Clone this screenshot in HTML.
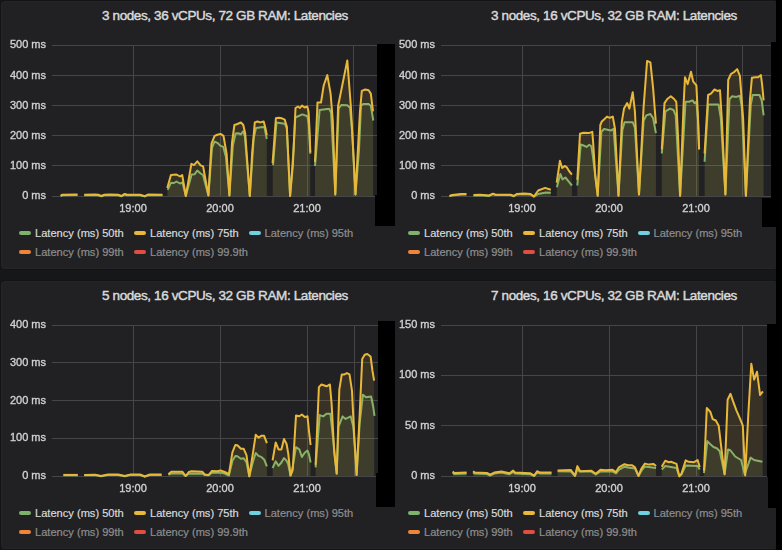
<!DOCTYPE html>
<html><head><meta charset="utf-8"><style>
*{margin:0;padding:0;box-sizing:border-box}
html,body{width:782px;height:550px;overflow:hidden;background:#161719}
body{position:relative;font-family:"Liberation Sans",sans-serif}
.p{position:absolute;background:#212124;border-radius:3px;border:1px solid #252528;box-shadow:0 0 0 1px #121314}
svg{position:absolute;left:0;top:0}
.t{position:absolute;text-align:center;font-size:13.5px;color:#d8d9da;letter-spacing:-0.39px;line-height:16px;white-space:nowrap;-webkit-text-stroke:0.45px #d8d9da}
.yl{position:absolute;width:46px;text-align:right;font-size:11px;color:#cfd0d1;line-height:14px;white-space:nowrap;will-change:transform;-webkit-text-stroke:0.35px #cfd0d1}
.xl{position:absolute;width:50px;text-align:center;font-size:11px;color:#cfd0d1;line-height:14px;white-space:nowrap;will-change:transform;-webkit-text-stroke:0.35px #cfd0d1}
.sw{position:absolute;width:12px;height:4px;border-radius:2px}
.lg{position:absolute;font-size:11.1px;color:#d8d9da;line-height:14px;white-space:nowrap;-webkit-text-stroke:0.2px currentColor}
.dim{color:#8e8e8e}
</style></head><body>
<div class="p" style="left:1px;top:1px;width:776px;height:268px"></div>
<div class="p" style="left:1px;top:281px;width:776px;height:268px"></div>
<svg width="782" height="550" viewBox="0 0 782 550">
<rect x="52.0" y="45" width="325.0" height="1" fill="#464648"/>
<rect x="52.0" y="75" width="325.0" height="1" fill="#464648"/>
<rect x="52.0" y="105" width="325.0" height="1" fill="#464648"/>
<rect x="52.0" y="135" width="325.0" height="1" fill="#464648"/>
<rect x="52.0" y="165" width="325.0" height="1" fill="#464648"/>
<rect x="52.0" y="196" width="325.0" height="1" fill="#464648"/>
<rect x="133" y="45" width="1" height="151" fill="#464648"/>
<rect x="220" y="45" width="1" height="151" fill="#464648"/>
<rect x="307" y="45" width="1" height="151" fill="#464648"/>
<rect x="353" y="45" width="1" height="151" fill="#464648"/>
<polygon points="60.6,196.0 62.7,195.2 77.5,195.0 77.5,196.0 60.6,196.0" fill="#7eb26d" fill-opacity="0.09"/>
<polygon points="84.2,195.3 95.0,195.1 98.0,195.3 101.5,196.3 104.0,195.3 110.0,195.0 118.0,195.3 121.5,196.3 124.6,194.5 127.0,195.3 140.0,195.2 144.8,196.4 148.0,195.1 162.5,195.2 162.5,196.0 84.2,196.0" fill="#7eb26d" fill-opacity="0.09"/>
<polygon points="167.7,189.9 171.0,182.7 174.0,183.0 176.5,181.5 180.0,183.5 182.5,182.5 185.8,196.0 191.6,174.6 194.5,174.3 197.3,170.5 200.6,173.5 203.0,175.0 208.4,195.4 212.0,147.5 214.6,141.6 217.4,142.8 220.5,145.9 223.2,146.7 225.9,156.7 229.4,195.4 232.8,145.9 235.6,133.5 238.2,133.2 240.9,134.3 243.3,131.2 244.9,136.6 249.8,196.0 253.7,138.2 256.0,128.1 263.0,127.0 264.5,127.4 266.8,139.0 266.8,196.0 167.7,196.0" fill="#7eb26d" fill-opacity="0.09"/>
<polygon points="273.0,165.2 276.5,122.4 281.4,123.2 284.7,123.8 286.8,128.0 290.1,196.0 293.5,150.0 295.3,117.5 302.4,114.4 307.4,116.3 308.8,125.0 310.3,153.8 310.3,196.0 273.0,196.0" fill="#7eb26d" fill-opacity="0.09"/>
<polygon points="315.0,166.0 319.6,110.0 329.2,108.7 331.1,112.8 335.3,194.4 338.6,108.6 341.3,105.0 347.3,105.3 350.0,107.8 352.2,131.7 355.5,194.4 359.0,150.0 361.0,105.8 363.1,103.9 368.6,103.9 370.8,105.8 373.3,120.5 373.3,196.0 315.0,196.0" fill="#7eb26d" fill-opacity="0.09"/>
<polyline points="60.6,196.0 62.7,195.2 77.5,195.0" fill="none" stroke="#7eb26d" stroke-width="2" stroke-linejoin="round"/>
<polyline points="84.2,195.3 95.0,195.1 98.0,195.3 101.5,196.3 104.0,195.3 110.0,195.0 118.0,195.3 121.5,196.3 124.6,194.5 127.0,195.3 140.0,195.2 144.8,196.4 148.0,195.1 162.5,195.2" fill="none" stroke="#7eb26d" stroke-width="2" stroke-linejoin="round"/>
<polyline points="167.7,189.9 171.0,182.7 174.0,183.0 176.5,181.5 180.0,183.5 182.5,182.5 185.8,196.0 191.6,174.6 194.5,174.3 197.3,170.5 200.6,173.5 203.0,175.0 208.4,195.4 212.0,147.5 214.6,141.6 217.4,142.8 220.5,145.9 223.2,146.7 225.9,156.7 229.4,195.4 232.8,145.9 235.6,133.5 238.2,133.2 240.9,134.3 243.3,131.2 244.9,136.6 249.8,196.0 253.7,138.2 256.0,128.1 263.0,127.0 264.5,127.4 266.8,139.0" fill="none" stroke="#7eb26d" stroke-width="2" stroke-linejoin="round"/>
<polyline points="273.0,165.2 276.5,122.4 281.4,123.2 284.7,123.8 286.8,128.0 290.1,196.0 293.5,150.0 295.3,117.5 302.4,114.4 307.4,116.3 308.8,125.0 310.3,153.8" fill="none" stroke="#7eb26d" stroke-width="2" stroke-linejoin="round"/>
<polyline points="315.0,166.0 319.6,110.0 329.2,108.7 331.1,112.8 335.3,194.4 338.6,108.6 341.3,105.0 347.3,105.3 350.0,107.8 352.2,131.7 355.5,194.4 359.0,150.0 361.0,105.8 363.1,103.9 368.6,103.9 370.8,105.8 373.3,120.5" fill="none" stroke="#7eb26d" stroke-width="2" stroke-linejoin="round"/>
<polygon points="60.6,195.7 62.7,194.7 77.5,194.5 77.5,196.0 60.6,196.0" fill="#eab839" fill-opacity="0.11"/>
<polygon points="84.2,194.8 95.0,194.6 98.0,194.8 101.5,196.0 104.0,194.8 110.0,194.5 118.0,194.8 121.5,196.0 124.6,193.9 127.0,194.8 140.0,194.7 144.8,196.2 148.0,194.6 162.5,194.7 162.5,196.0 84.2,196.0" fill="#eab839" fill-opacity="0.11"/>
<polygon points="167.3,187.9 170.9,175.0 176.5,174.5 180.0,176.5 182.2,175.0 185.8,196.0 191.4,163.8 194.0,165.1 197.3,161.3 200.6,165.3 203.1,166.4 208.4,195.4 211.5,143.6 214.6,135.9 217.4,134.8 220.5,133.9 223.5,135.9 226.6,153.6 229.4,195.4 232.0,142.8 234.4,125.0 237.5,124.0 240.9,122.4 243.3,125.0 245.2,133.5 249.8,196.0 252.1,153.6 254.8,122.4 257.5,121.5 260.3,122.4 263.7,121.5 265.3,127.4 266.8,135.1 266.8,196.0 167.3,196.0" fill="#eab839" fill-opacity="0.11"/>
<polygon points="272.6,163.0 275.9,118.3 278.7,117.7 281.9,118.3 284.7,119.6 286.8,126.5 290.1,196.0 292.9,164.7 295.5,108.0 298.0,106.5 300.0,108.0 302.0,105.5 304.5,107.5 307.3,106.5 308.6,112.0 309.5,130.0 310.3,152.4 310.3,196.0 272.6,196.0" fill="#eab839" fill-opacity="0.11"/>
<polygon points="315.0,162.0 317.5,102.5 321.0,102.5 323.7,85.5 327.3,75.1 330.6,93.7 332.8,121.0 335.3,194.4 338.1,106.0 347.3,60.4 350.9,107.2 355.5,194.4 359.9,112.7 361.8,90.9 365.3,89.5 368.6,90.3 370.8,93.6 373.0,111.3 373.0,196.0 315.0,196.0" fill="#eab839" fill-opacity="0.11"/>
<polyline points="60.6,195.7 62.7,194.7 77.5,194.5" fill="none" stroke="#eab839" stroke-width="2" stroke-linejoin="round"/>
<polyline points="84.2,194.8 95.0,194.6 98.0,194.8 101.5,196.0 104.0,194.8 110.0,194.5 118.0,194.8 121.5,196.0 124.6,193.9 127.0,194.8 140.0,194.7 144.8,196.2 148.0,194.6 162.5,194.7" fill="none" stroke="#eab839" stroke-width="2" stroke-linejoin="round"/>
<polyline points="167.3,187.9 170.9,175.0 176.5,174.5 180.0,176.5 182.2,175.0 185.8,196.0 191.4,163.8 194.0,165.1 197.3,161.3 200.6,165.3 203.1,166.4 208.4,195.4 211.5,143.6 214.6,135.9 217.4,134.8 220.5,133.9 223.5,135.9 226.6,153.6 229.4,195.4 232.0,142.8 234.4,125.0 237.5,124.0 240.9,122.4 243.3,125.0 245.2,133.5 249.8,196.0 252.1,153.6 254.8,122.4 257.5,121.5 260.3,122.4 263.7,121.5 265.3,127.4 266.8,135.1" fill="none" stroke="#eab839" stroke-width="2" stroke-linejoin="round"/>
<polyline points="272.6,163.0 275.9,118.3 278.7,117.7 281.9,118.3 284.7,119.6 286.8,126.5 290.1,196.0 292.9,164.7 295.5,108.0 298.0,106.5 300.0,108.0 302.0,105.5 304.5,107.5 307.3,106.5 308.6,112.0 309.5,130.0 310.3,152.4" fill="none" stroke="#eab839" stroke-width="2" stroke-linejoin="round"/>
<polyline points="315.0,162.0 317.5,102.5 321.0,102.5 323.7,85.5 327.3,75.1 330.6,93.7 332.8,121.0 335.3,194.4 338.1,106.0 347.3,60.4 350.9,107.2 355.5,194.4 359.9,112.7 361.8,90.9 365.3,89.5 368.6,90.3 370.8,93.6 373.0,111.3" fill="none" stroke="#eab839" stroke-width="2" stroke-linejoin="round"/>
<rect x="441.0" y="45" width="330.0" height="1" fill="#464648"/>
<rect x="441.0" y="75" width="330.0" height="1" fill="#464648"/>
<rect x="441.0" y="105" width="330.0" height="1" fill="#464648"/>
<rect x="441.0" y="135" width="330.0" height="1" fill="#464648"/>
<rect x="441.0" y="165" width="330.0" height="1" fill="#464648"/>
<rect x="441.0" y="196" width="330.0" height="1" fill="#464648"/>
<rect x="522" y="45" width="1" height="151" fill="#464648"/>
<rect x="609" y="45" width="1" height="151" fill="#464648"/>
<rect x="696" y="45" width="1" height="151" fill="#464648"/>
<rect x="742" y="45" width="1" height="151" fill="#464648"/>
<polygon points="449.5,196.2 452.3,195.4 461.5,194.5 466.4,194.5 466.4,196.0 449.5,196.0" fill="#7eb26d" fill-opacity="0.09"/>
<polygon points="473.5,195.4 480.0,195.2 489.1,195.9 493.0,194.1 495.2,194.9 510.6,195.1 513.7,196.3 516.7,194.4 524.4,193.9 530.5,194.4 533.9,196.6 538.2,194.0 545.9,192.5 550.8,192.8 550.8,196.0 473.5,196.0" fill="#7eb26d" fill-opacity="0.09"/>
<polygon points="556.9,187.3 560.3,173.9 562.5,179.4 565.4,177.5 569.0,181.9 571.9,185.5 571.9,196.0 556.9,196.0" fill="#7eb26d" fill-opacity="0.09"/>
<polygon points="577.3,185.5 580.7,144.5 583.6,145.5 586.5,146.9 589.4,144.8 591.3,146.2 593.1,157.9 597.7,195.7 601.4,131.7 604.0,129.0 611.0,130.4 613.6,129.0 618.5,195.8 622.3,130.4 624.5,122.2 632.7,122.2 634.9,127.7 639.0,194.4 643.6,120.8 646.3,115.4 650.4,114.0 653.1,118.1 655.9,133.1 655.9,196.0 577.3,196.0" fill="#7eb26d" fill-opacity="0.09"/>
<polygon points="661.8,153.5 665.4,111.3 670.0,108.6 673.5,110.0 675.7,115.4 680.1,195.8 685.5,101.8 689.0,101.8 692.6,100.4 694.5,103.1 696.4,101.8 698.0,120.8 699.1,149.4 699.1,196.0 661.8,196.0" fill="#7eb26d" fill-opacity="0.09"/>
<polygon points="704.6,161.7 708.1,104.5 718.6,104.5 720.8,118.1 725.4,194.4 729.5,99.0 732.2,96.3 736.3,96.9 739.9,95.8 741.8,107.2 745.9,195.8 750.8,104.5 752.7,95.0 759.5,95.0 761.7,100.4 763.6,115.4 763.6,196.0 704.6,196.0" fill="#7eb26d" fill-opacity="0.09"/>
<polyline points="449.5,196.2 452.3,195.4 461.5,194.5 466.4,194.5" fill="none" stroke="#7eb26d" stroke-width="2" stroke-linejoin="round"/>
<polyline points="473.5,195.4 480.0,195.2 489.1,195.9 493.0,194.1 495.2,194.9 510.6,195.1 513.7,196.3 516.7,194.4 524.4,193.9 530.5,194.4 533.9,196.6 538.2,194.0 545.9,192.5 550.8,192.8" fill="none" stroke="#7eb26d" stroke-width="2" stroke-linejoin="round"/>
<polyline points="556.9,187.3 560.3,173.9 562.5,179.4 565.4,177.5 569.0,181.9 571.9,185.5" fill="none" stroke="#7eb26d" stroke-width="2" stroke-linejoin="round"/>
<polyline points="577.3,185.5 580.7,144.5 583.6,145.5 586.5,146.9 589.4,144.8 591.3,146.2 593.1,157.9 597.7,195.7 601.4,131.7 604.0,129.0 611.0,130.4 613.6,129.0 618.5,195.8 622.3,130.4 624.5,122.2 632.7,122.2 634.9,127.7 639.0,194.4 643.6,120.8 646.3,115.4 650.4,114.0 653.1,118.1 655.9,133.1" fill="none" stroke="#7eb26d" stroke-width="2" stroke-linejoin="round"/>
<polyline points="661.8,153.5 665.4,111.3 670.0,108.6 673.5,110.0 675.7,115.4 680.1,195.8 685.5,101.8 689.0,101.8 692.6,100.4 694.5,103.1 696.4,101.8 698.0,120.8 699.1,149.4" fill="none" stroke="#7eb26d" stroke-width="2" stroke-linejoin="round"/>
<polyline points="704.6,161.7 708.1,104.5 718.6,104.5 720.8,118.1 725.4,194.4 729.5,99.0 732.2,96.3 736.3,96.9 739.9,95.8 741.8,107.2 745.9,195.8 750.8,104.5 752.7,95.0 759.5,95.0 761.7,100.4 763.6,115.4" fill="none" stroke="#7eb26d" stroke-width="2" stroke-linejoin="round"/>
<polygon points="449.5,196.0 452.3,195.0 461.5,194.1 466.4,194.1 466.4,196.0 449.5,196.0" fill="#eab839" fill-opacity="0.11"/>
<polygon points="473.5,195.0 480.0,194.8 489.1,195.5 493.0,193.7 495.2,194.5 510.6,194.7 513.7,196.0 516.7,194.0 524.4,193.5 530.5,194.0 533.9,196.5 538.2,190.5 545.1,187.9 550.8,189.7 550.8,196.0 473.5,196.0" fill="#eab839" fill-opacity="0.11"/>
<polygon points="556.7,182.6 559.9,160.8 562.2,168.0 564.7,165.9 566.8,167.3 569.0,171.0 571.9,174.6 571.9,196.0 556.7,196.0" fill="#eab839" fill-opacity="0.11"/>
<polygon points="577.3,179.7 580.0,133.8 583.6,132.8 588.7,133.1 592.3,131.9 593.1,141.8 595.2,175.3 597.7,195.7 600.3,125.0 601.8,121.5 604.0,119.5 607.0,116.6 609.8,117.8 612.8,116.6 615.0,129.0 618.5,195.8 621.8,122.2 624.0,108.6 627.2,103.1 629.4,108.6 632.7,92.2 634.9,111.3 639.0,194.4 643.6,107.2 647.1,60.9 650.4,62.3 653.1,88.1 655.9,123.6 655.9,196.0 577.3,196.0" fill="#eab839" fill-opacity="0.11"/>
<polygon points="661.8,149.4 664.5,103.1 667.3,99.0 670.8,96.3 674.1,99.0 676.3,101.8 678.2,139.9 680.1,195.8 683.6,104.5 685.0,77.2 687.7,84.1 691.0,71.8 693.1,81.3 696.4,85.4 698.0,118.1 699.1,149.4 699.1,196.0 661.8,196.0" fill="#eab839" fill-opacity="0.11"/>
<polygon points="704.6,153.5 708.1,95.0 711.0,93.6 714.5,89.5 717.3,90.9 720.0,90.3 721.9,120.8 725.4,194.4 728.2,80.0 730.9,74.0 734.4,71.8 737.2,69.1 739.9,75.9 743.1,118.1 745.9,195.8 750.0,99.0 751.9,77.8 755.4,77.2 758.1,77.2 760.9,75.1 762.2,85.4 763.6,100.4 763.6,196.0 704.6,196.0" fill="#eab839" fill-opacity="0.11"/>
<polyline points="449.5,196.0 452.3,195.0 461.5,194.1 466.4,194.1" fill="none" stroke="#eab839" stroke-width="2" stroke-linejoin="round"/>
<polyline points="473.5,195.0 480.0,194.8 489.1,195.5 493.0,193.7 495.2,194.5 510.6,194.7 513.7,196.0 516.7,194.0 524.4,193.5 530.5,194.0 533.9,196.5 538.2,190.5 545.1,187.9 550.8,189.7" fill="none" stroke="#eab839" stroke-width="2" stroke-linejoin="round"/>
<polyline points="556.7,182.6 559.9,160.8 562.2,168.0 564.7,165.9 566.8,167.3 569.0,171.0 571.9,174.6" fill="none" stroke="#eab839" stroke-width="2" stroke-linejoin="round"/>
<polyline points="577.3,179.7 580.0,133.8 583.6,132.8 588.7,133.1 592.3,131.9 593.1,141.8 595.2,175.3 597.7,195.7 600.3,125.0 601.8,121.5 604.0,119.5 607.0,116.6 609.8,117.8 612.8,116.6 615.0,129.0 618.5,195.8 621.8,122.2 624.0,108.6 627.2,103.1 629.4,108.6 632.7,92.2 634.9,111.3 639.0,194.4 643.6,107.2 647.1,60.9 650.4,62.3 653.1,88.1 655.9,123.6" fill="none" stroke="#eab839" stroke-width="2" stroke-linejoin="round"/>
<polyline points="661.8,149.4 664.5,103.1 667.3,99.0 670.8,96.3 674.1,99.0 676.3,101.8 678.2,139.9 680.1,195.8 683.6,104.5 685.0,77.2 687.7,84.1 691.0,71.8 693.1,81.3 696.4,85.4 698.0,118.1 699.1,149.4" fill="none" stroke="#eab839" stroke-width="2" stroke-linejoin="round"/>
<polyline points="704.6,153.5 708.1,95.0 711.0,93.6 714.5,89.5 717.3,90.9 720.0,90.3 721.9,120.8 725.4,194.4 728.2,80.0 730.9,74.0 734.4,71.8 737.2,69.1 739.9,75.9 743.1,118.1 745.9,195.8 750.0,99.0 751.9,77.8 755.4,77.2 758.1,77.2 760.9,75.1 762.2,85.4 763.6,100.4" fill="none" stroke="#eab839" stroke-width="2" stroke-linejoin="round"/>
<rect x="52.0" y="325" width="326.0" height="1" fill="#464648"/>
<rect x="52.0" y="362" width="326.0" height="1" fill="#464648"/>
<rect x="52.0" y="400" width="326.0" height="1" fill="#464648"/>
<rect x="52.0" y="438" width="326.0" height="1" fill="#464648"/>
<rect x="52.0" y="476" width="326.0" height="1" fill="#464648"/>
<rect x="133" y="325" width="1" height="151" fill="#464648"/>
<rect x="220" y="325" width="1" height="151" fill="#464648"/>
<rect x="307" y="325" width="1" height="151" fill="#464648"/>
<rect x="354" y="325" width="1" height="151" fill="#464648"/>
<polygon points="63.4,475.3 77.7,475.3 77.7,476.0 63.4,476.0" fill="#7eb26d" fill-opacity="0.09"/>
<polygon points="84.2,475.3 95.0,475.1 101.0,476.2 108.0,475.1 118.0,475.0 124.8,476.2 130.0,475.1 140.0,475.0 144.8,476.5 150.0,475.0 161.6,475.0 161.6,476.0 84.2,476.0" fill="#7eb26d" fill-opacity="0.09"/>
<polygon points="168.4,474.6 171.3,473.5 182.5,473.5 185.6,476.0 188.8,473.8 202.2,473.5 205.0,475.0 208.5,475.3 212.0,472.8 220.5,472.5 224.7,473.5 228.9,475.5 232.4,460.8 235.3,455.9 237.4,456.3 240.9,458.7 243.7,458.3 246.5,462.2 249.3,476.3 252.8,462.2 255.7,453.0 258.5,455.9 261.3,456.9 264.1,459.4 266.9,466.4 266.9,476.0 168.4,476.0" fill="#7eb26d" fill-opacity="0.09"/>
<polygon points="272.6,468.0 275.7,461.4 278.5,465.8 281.4,462.5 284.0,458.1 286.6,460.7 288.3,464.7 290.5,475.5 292.7,466.8 296.0,447.2 299.3,449.4 301.9,457.0 304.7,452.7 307.5,450.5 309.1,454.9 310.6,462.5 310.6,476.0 272.6,476.0" fill="#7eb26d" fill-opacity="0.09"/>
<polygon points="315.6,467.3 319.7,415.1 323.2,416.4 326.5,413.8 330.4,413.8 332.9,436.7 336.7,473.6 338.5,426.5 342.6,416.4 345.6,418.9 350.7,416.4 353.3,426.5 355.8,457.1 356.6,474.9 359.6,424.0 362.9,394.7 366.0,397.3 371.1,396.5 373.1,406.2 374.5,415.8 374.5,476.0 315.6,476.0" fill="#7eb26d" fill-opacity="0.09"/>
<polyline points="63.4,475.3 77.7,475.3" fill="none" stroke="#7eb26d" stroke-width="2" stroke-linejoin="round"/>
<polyline points="84.2,475.3 95.0,475.1 101.0,476.2 108.0,475.1 118.0,475.0 124.8,476.2 130.0,475.1 140.0,475.0 144.8,476.5 150.0,475.0 161.6,475.0" fill="none" stroke="#7eb26d" stroke-width="2" stroke-linejoin="round"/>
<polyline points="168.4,474.6 171.3,473.5 182.5,473.5 185.6,476.0 188.8,473.8 202.2,473.5 205.0,475.0 208.5,475.3 212.0,472.8 220.5,472.5 224.7,473.5 228.9,475.5 232.4,460.8 235.3,455.9 237.4,456.3 240.9,458.7 243.7,458.3 246.5,462.2 249.3,476.3 252.8,462.2 255.7,453.0 258.5,455.9 261.3,456.9 264.1,459.4 266.9,466.4" fill="none" stroke="#7eb26d" stroke-width="2" stroke-linejoin="round"/>
<polyline points="272.6,468.0 275.7,461.4 278.5,465.8 281.4,462.5 284.0,458.1 286.6,460.7 288.3,464.7 290.5,475.5 292.7,466.8 296.0,447.2 299.3,449.4 301.9,457.0 304.7,452.7 307.5,450.5 309.1,454.9 310.6,462.5" fill="none" stroke="#7eb26d" stroke-width="2" stroke-linejoin="round"/>
<polyline points="315.6,467.3 319.7,415.1 323.2,416.4 326.5,413.8 330.4,413.8 332.9,436.7 336.7,473.6 338.5,426.5 342.6,416.4 345.6,418.9 350.7,416.4 353.3,426.5 355.8,457.1 356.6,474.9 359.6,424.0 362.9,394.7 366.0,397.3 371.1,396.5 373.1,406.2 374.5,415.8" fill="none" stroke="#7eb26d" stroke-width="2" stroke-linejoin="round"/>
<polygon points="63.4,474.9 77.7,474.9 77.7,476.0 63.4,476.0" fill="#eab839" fill-opacity="0.11"/>
<polygon points="84.2,474.9 95.0,474.7 101.0,476.0 108.0,474.6 118.0,474.5 124.8,476.0 130.0,474.6 140.0,474.5 144.8,476.5 150.0,474.5 161.6,474.5 161.6,476.0 84.2,476.0" fill="#eab839" fill-opacity="0.11"/>
<polygon points="168.4,474.2 171.3,471.8 182.5,471.8 185.6,476.0 188.8,472.0 191.6,471.3 202.2,471.8 205.0,474.6 208.5,475.1 212.0,470.9 217.7,471.3 220.5,470.4 224.7,472.0 228.9,474.2 232.4,452.4 235.3,445.0 237.4,445.3 240.9,448.8 243.7,448.8 246.5,455.2 249.3,476.3 252.8,453.8 255.7,434.8 258.5,437.6 261.3,435.8 264.1,435.8 266.9,443.2 266.9,476.0 168.4,476.0" fill="#eab839" fill-opacity="0.11"/>
<polygon points="272.6,460.3 275.7,442.4 278.5,449.4 281.4,449.4 284.0,438.9 286.6,444.0 288.3,453.8 290.5,475.6 292.7,470.1 296.0,415.6 299.3,416.3 301.9,414.5 304.7,417.1 307.5,416.3 309.1,432.0 310.6,445.0 310.6,476.0 272.6,476.0" fill="#eab839" fill-opacity="0.11"/>
<polygon points="315.6,464.7 318.9,387.1 321.5,384.5 326.5,386.3 329.9,384.5 331.6,403.6 334.2,452.0 336.7,473.6 339.3,389.6 341.8,374.4 344.4,374.4 346.9,373.1 349.5,374.4 352.0,390.9 354.5,441.8 356.6,474.9 359.6,416.4 362.2,359.1 364.7,354.8 367.3,354.0 370.6,356.5 372.4,370.5 374.1,380.7 374.1,476.0 315.6,476.0" fill="#eab839" fill-opacity="0.11"/>
<polyline points="63.4,474.9 77.7,474.9" fill="none" stroke="#eab839" stroke-width="2" stroke-linejoin="round"/>
<polyline points="84.2,474.9 95.0,474.7 101.0,476.0 108.0,474.6 118.0,474.5 124.8,476.0 130.0,474.6 140.0,474.5 144.8,476.5 150.0,474.5 161.6,474.5" fill="none" stroke="#eab839" stroke-width="2" stroke-linejoin="round"/>
<polyline points="168.4,474.2 171.3,471.8 182.5,471.8 185.6,476.0 188.8,472.0 191.6,471.3 202.2,471.8 205.0,474.6 208.5,475.1 212.0,470.9 217.7,471.3 220.5,470.4 224.7,472.0 228.9,474.2 232.4,452.4 235.3,445.0 237.4,445.3 240.9,448.8 243.7,448.8 246.5,455.2 249.3,476.3 252.8,453.8 255.7,434.8 258.5,437.6 261.3,435.8 264.1,435.8 266.9,443.2" fill="none" stroke="#eab839" stroke-width="2" stroke-linejoin="round"/>
<polyline points="272.6,460.3 275.7,442.4 278.5,449.4 281.4,449.4 284.0,438.9 286.6,444.0 288.3,453.8 290.5,475.6 292.7,470.1 296.0,415.6 299.3,416.3 301.9,414.5 304.7,417.1 307.5,416.3 309.1,432.0 310.6,445.0" fill="none" stroke="#eab839" stroke-width="2" stroke-linejoin="round"/>
<polyline points="315.6,464.7 318.9,387.1 321.5,384.5 326.5,386.3 329.9,384.5 331.6,403.6 334.2,452.0 336.7,473.6 339.3,389.6 341.8,374.4 344.4,374.4 346.9,373.1 349.5,374.4 352.0,390.9 354.5,441.8 356.6,474.9 359.6,416.4 362.2,359.1 364.7,354.8 367.3,354.0 370.6,356.5 372.4,370.5 374.1,380.7" fill="none" stroke="#eab839" stroke-width="2" stroke-linejoin="round"/>
<rect x="441.0" y="325" width="326.0" height="1" fill="#464648"/>
<rect x="441.0" y="375" width="326.0" height="1" fill="#464648"/>
<rect x="441.0" y="425" width="326.0" height="1" fill="#464648"/>
<rect x="441.0" y="476" width="326.0" height="1" fill="#464648"/>
<rect x="522" y="325" width="1" height="151" fill="#464648"/>
<rect x="609" y="325" width="1" height="151" fill="#464648"/>
<rect x="696" y="325" width="1" height="151" fill="#464648"/>
<rect x="742" y="325" width="1" height="151" fill="#464648"/>
<polygon points="452.7,472.6 454.3,474.0 466.6,473.6 466.6,476.0 452.7,476.0" fill="#7eb26d" fill-opacity="0.09"/>
<polygon points="473.1,472.4 474.8,473.6 487.0,474.0 490.1,475.5 494.2,473.6 501.4,472.6 509.5,474.2 513.2,472.0 515.3,473.6 530.0,474.2 534.1,476.0 537.1,472.4 540.2,473.6 551.5,473.6 551.5,476.0 473.1,476.0" fill="#7eb26d" fill-opacity="0.09"/>
<polygon points="557.6,471.2 570.9,471.6 575.0,476.0 577.4,469.5 580.1,471.6 591.5,471.6 595.8,474.5 600.5,471.5 612.5,471.5 616.0,473.5 618.8,470.0 624.5,466.7 628.0,467.5 635.0,468.5 638.5,476.0 641.3,471.0 644.9,466.4 656.1,468.1 656.1,476.0 557.6,476.0" fill="#7eb26d" fill-opacity="0.09"/>
<polygon points="661.7,469.5 665.3,466.0 676.5,467.9 679.3,476.3 681.4,474.5 685.7,465.6 697.6,466.0 699.7,469.5 699.7,476.0 661.7,476.0" fill="#7eb26d" fill-opacity="0.09"/>
<polygon points="704.0,473.0 707.3,441.1 710.4,444.2 713.5,447.0 716.8,448.2 719.8,451.3 724.6,474.2 728.1,449.4 730.5,450.5 735.2,456.5 741.1,460.0 744.7,474.2 750.6,457.6 754.1,460.0 762.4,461.7 762.4,476.0 704.0,476.0" fill="#7eb26d" fill-opacity="0.09"/>
<polyline points="452.7,472.6 454.3,474.0 466.6,473.6" fill="none" stroke="#7eb26d" stroke-width="2" stroke-linejoin="round"/>
<polyline points="473.1,472.4 474.8,473.6 487.0,474.0 490.1,475.5 494.2,473.6 501.4,472.6 509.5,474.2 513.2,472.0 515.3,473.6 530.0,474.2 534.1,476.0 537.1,472.4 540.2,473.6 551.5,473.6" fill="none" stroke="#7eb26d" stroke-width="2" stroke-linejoin="round"/>
<polyline points="557.6,471.2 570.9,471.6 575.0,476.0 577.4,469.5 580.1,471.6 591.5,471.6 595.8,474.5 600.5,471.5 612.5,471.5 616.0,473.5 618.8,470.0 624.5,466.7 628.0,467.5 635.0,468.5 638.5,476.0 641.3,471.0 644.9,466.4 656.1,468.1" fill="none" stroke="#7eb26d" stroke-width="2" stroke-linejoin="round"/>
<polyline points="661.7,469.5 665.3,466.0 676.5,467.9 679.3,476.3 681.4,474.5 685.7,465.6 697.6,466.0 699.7,469.5" fill="none" stroke="#7eb26d" stroke-width="2" stroke-linejoin="round"/>
<polyline points="704.0,473.0 707.3,441.1 710.4,444.2 713.5,447.0 716.8,448.2 719.8,451.3 724.6,474.2 728.1,449.4 730.5,450.5 735.2,456.5 741.1,460.0 744.7,474.2 750.6,457.6 754.1,460.0 762.4,461.7" fill="none" stroke="#7eb26d" stroke-width="2" stroke-linejoin="round"/>
<polygon points="452.7,471.6 454.3,473.0 466.6,472.6 466.6,476.0 452.7,476.0" fill="#eab839" fill-opacity="0.11"/>
<polygon points="473.1,471.2 474.8,472.6 487.0,473.0 490.1,474.7 494.2,472.6 501.4,471.6 509.5,473.2 513.2,470.6 515.3,472.6 530.0,473.2 534.1,475.7 537.1,471.2 540.2,472.6 551.5,472.6 551.5,476.0 473.1,476.0" fill="#eab839" fill-opacity="0.11"/>
<polygon points="557.6,470.6 570.9,470.0 575.0,475.7 577.4,466.1 580.1,471.2 591.5,470.8 595.8,473.8 600.5,469.8 605.5,470.2 612.5,469.8 616.0,472.1 618.8,467.4 624.5,464.2 628.0,465.3 632.2,465.3 635.0,467.4 638.5,475.9 641.3,468.8 644.9,463.6 649.1,464.6 653.3,463.9 656.1,466.0 656.1,476.0 557.6,476.0" fill="#eab839" fill-opacity="0.11"/>
<polygon points="661.7,466.7 665.3,460.8 668.8,462.2 670.9,461.8 676.5,463.9 679.3,476.3 681.4,473.8 685.7,460.4 688.5,461.8 694.1,462.2 697.6,460.0 699.7,467.0 699.7,476.0 661.7,476.0" fill="#eab839" fill-opacity="0.11"/>
<polygon points="704.0,470.7 706.8,408.0 710.4,412.0 712.7,419.1 715.8,420.5 718.7,425.7 721.5,449.4 724.6,474.2 727.6,399.7 730.5,393.8 732.9,400.9 736.4,410.3 740.0,418.6 742.8,425.7 745.2,475.4 748.2,416.2 751.3,363.7 754.1,379.6 757.0,371.8 760.1,395.0 762.9,391.4 762.9,476.0 704.0,476.0" fill="#eab839" fill-opacity="0.11"/>
<polyline points="452.7,471.6 454.3,473.0 466.6,472.6" fill="none" stroke="#eab839" stroke-width="2" stroke-linejoin="round"/>
<polyline points="473.1,471.2 474.8,472.6 487.0,473.0 490.1,474.7 494.2,472.6 501.4,471.6 509.5,473.2 513.2,470.6 515.3,472.6 530.0,473.2 534.1,475.7 537.1,471.2 540.2,472.6 551.5,472.6" fill="none" stroke="#eab839" stroke-width="2" stroke-linejoin="round"/>
<polyline points="557.6,470.6 570.9,470.0 575.0,475.7 577.4,466.1 580.1,471.2 591.5,470.8 595.8,473.8 600.5,469.8 605.5,470.2 612.5,469.8 616.0,472.1 618.8,467.4 624.5,464.2 628.0,465.3 632.2,465.3 635.0,467.4 638.5,475.9 641.3,468.8 644.9,463.6 649.1,464.6 653.3,463.9 656.1,466.0" fill="none" stroke="#eab839" stroke-width="2" stroke-linejoin="round"/>
<polyline points="661.7,466.7 665.3,460.8 668.8,462.2 670.9,461.8 676.5,463.9 679.3,476.3 681.4,473.8 685.7,460.4 688.5,461.8 694.1,462.2 697.6,460.0 699.7,467.0" fill="none" stroke="#eab839" stroke-width="2" stroke-linejoin="round"/>
<polyline points="704.0,470.7 706.8,408.0 710.4,412.0 712.7,419.1 715.8,420.5 718.7,425.7 721.5,449.4 724.6,474.2 727.6,399.7 730.5,393.8 732.9,400.9 736.4,410.3 740.0,418.6 742.8,425.7 745.2,475.4 748.2,416.2 751.3,363.7 754.1,379.6 757.0,371.8 760.1,395.0 762.9,391.4" fill="none" stroke="#eab839" stroke-width="2" stroke-linejoin="round"/>
<polygon points="377.0,44.0 395.0,44.0 395.0,226.0 375.0,226.0 375.0,195.0 377.0,195.0" fill="#000" shape-rendering="crispEdges"/>
<polygon points="771.0,42.0 782.0,42.0 782.0,227.0 762.0,227.0 762.0,198.0 771.0,198.0" fill="#000" shape-rendering="crispEdges"/>
<polygon points="378.0,321.0 395.0,321.0 395.0,507.0 376.0,507.0 376.0,473.0 378.0,473.0" fill="#000" shape-rendering="crispEdges"/>
<polygon points="767.0,324.0 782.0,324.0 782.0,508.0 768.0,508.0 768.0,477.0 767.0,477.0" fill="#000" shape-rendering="crispEdges"/>
<polygon points="776.0,0.0 782.0,0.0 782.0,550.0 776.0,550.0" fill="#000" shape-rendering="crispEdges"/>
</svg>
<div class="t" style="left:32px;top:8px;width:386px">3 nodes, 36 vCPUs, 72 GB RAM: Latencies</div>
<div class="yl" style="left:0px;top:37.4px">500 ms</div>
<div class="yl" style="left:0px;top:67.5px">400 ms</div>
<div class="yl" style="left:0px;top:97.6px">300 ms</div>
<div class="yl" style="left:0px;top:127.8px">200 ms</div>
<div class="yl" style="left:0px;top:157.9px">100 ms</div>
<div class="yl" style="left:0px;top:188.0px">0 ms</div>
<div class="xl" style="left:108.1px;top:201px">19:00</div>
<div class="xl" style="left:195.1px;top:201px">20:00</div>
<div class="xl" style="left:282.1px;top:201px">21:00</div>
<div class="sw" style="left:19.0px;top:231.0px;background:#7eb26d"></div>
<div class="lg" style="left:35.0px;top:225.7px">Latency (ms) 50th</div>
<div class="sw" style="left:134.0px;top:231.0px;background:#eab839"></div>
<div class="lg" style="left:150.0px;top:225.7px">Latency (ms) 75th</div>
<div class="sw" style="left:248.5px;top:231.0px;background:#6ed0e0"></div>
<div class="lg dim" style="left:264.5px;top:225.7px">Latency (ms) 95th</div>
<div class="sw" style="left:19.0px;top:250.4px;background:#ef843c"></div>
<div class="lg dim" style="left:35.0px;top:245.1px">Latency (ms) 99th</div>
<div class="sw" style="left:134.0px;top:250.4px;background:#e24d42"></div>
<div class="lg dim" style="left:150.0px;top:245.1px">Latency (ms) 99.9th</div>
<div class="t" style="left:421px;top:8px;width:386px">3 nodes, 16 vCPUs, 32 GB RAM: Latencies</div>
<div class="yl" style="left:389px;top:37.4px">500 ms</div>
<div class="yl" style="left:389px;top:67.5px">400 ms</div>
<div class="yl" style="left:389px;top:97.6px">300 ms</div>
<div class="yl" style="left:389px;top:127.8px">200 ms</div>
<div class="yl" style="left:389px;top:157.9px">100 ms</div>
<div class="yl" style="left:389px;top:188.0px">0 ms</div>
<div class="xl" style="left:497.1px;top:201px">19:00</div>
<div class="xl" style="left:584.1px;top:201px">20:00</div>
<div class="xl" style="left:671.1px;top:201px">21:00</div>
<div class="sw" style="left:408.0px;top:231.0px;background:#7eb26d"></div>
<div class="lg" style="left:424.0px;top:225.7px">Latency (ms) 50th</div>
<div class="sw" style="left:523.0px;top:231.0px;background:#eab839"></div>
<div class="lg" style="left:539.0px;top:225.7px">Latency (ms) 75th</div>
<div class="sw" style="left:637.5px;top:231.0px;background:#6ed0e0"></div>
<div class="lg dim" style="left:653.5px;top:225.7px">Latency (ms) 95th</div>
<div class="sw" style="left:408.0px;top:250.4px;background:#ef843c"></div>
<div class="lg dim" style="left:424.0px;top:245.1px">Latency (ms) 99th</div>
<div class="sw" style="left:523.0px;top:250.4px;background:#e24d42"></div>
<div class="lg dim" style="left:539.0px;top:245.1px">Latency (ms) 99.9th</div>
<div class="t" style="left:32px;top:288px;width:386px">5 nodes, 16 vCPUs, 32 GB RAM: Latencies</div>
<div class="yl" style="left:0px;top:317.3px">400 ms</div>
<div class="yl" style="left:0px;top:355.0px">300 ms</div>
<div class="yl" style="left:0px;top:392.7px">200 ms</div>
<div class="yl" style="left:0px;top:430.4px">100 ms</div>
<div class="yl" style="left:0px;top:468.1px">0 ms</div>
<div class="xl" style="left:108.1px;top:481px">19:00</div>
<div class="xl" style="left:195.1px;top:481px">20:00</div>
<div class="xl" style="left:282.1px;top:481px">21:00</div>
<div class="sw" style="left:19.0px;top:511.0px;background:#7eb26d"></div>
<div class="lg" style="left:35.0px;top:505.7px">Latency (ms) 50th</div>
<div class="sw" style="left:134.0px;top:511.0px;background:#eab839"></div>
<div class="lg" style="left:150.0px;top:505.7px">Latency (ms) 75th</div>
<div class="sw" style="left:248.5px;top:511.0px;background:#6ed0e0"></div>
<div class="lg dim" style="left:264.5px;top:505.7px">Latency (ms) 95th</div>
<div class="sw" style="left:19.0px;top:530.4px;background:#ef843c"></div>
<div class="lg dim" style="left:35.0px;top:525.1px">Latency (ms) 99th</div>
<div class="sw" style="left:134.0px;top:530.4px;background:#e24d42"></div>
<div class="lg dim" style="left:150.0px;top:525.1px">Latency (ms) 99.9th</div>
<div class="t" style="left:421px;top:288px;width:386px">7 nodes, 16 vCPUs, 32 GB RAM: Latencies</div>
<div class="yl" style="left:389px;top:317.4px">150 ms</div>
<div class="yl" style="left:389px;top:367.0px">100 ms</div>
<div class="yl" style="left:389px;top:417.7px">50 ms</div>
<div class="yl" style="left:389px;top:467.8px">0 ms</div>
<div class="xl" style="left:497.1px;top:481px">19:00</div>
<div class="xl" style="left:584.1px;top:481px">20:00</div>
<div class="xl" style="left:671.1px;top:481px">21:00</div>
<div class="sw" style="left:408.0px;top:511.0px;background:#7eb26d"></div>
<div class="lg" style="left:424.0px;top:505.7px">Latency (ms) 50th</div>
<div class="sw" style="left:523.0px;top:511.0px;background:#eab839"></div>
<div class="lg" style="left:539.0px;top:505.7px">Latency (ms) 75th</div>
<div class="sw" style="left:637.5px;top:511.0px;background:#6ed0e0"></div>
<div class="lg dim" style="left:653.5px;top:505.7px">Latency (ms) 95th</div>
<div class="sw" style="left:408.0px;top:530.4px;background:#ef843c"></div>
<div class="lg dim" style="left:424.0px;top:525.1px">Latency (ms) 99th</div>
<div class="sw" style="left:523.0px;top:530.4px;background:#e24d42"></div>
<div class="lg dim" style="left:539.0px;top:525.1px">Latency (ms) 99.9th</div>
</body></html>
